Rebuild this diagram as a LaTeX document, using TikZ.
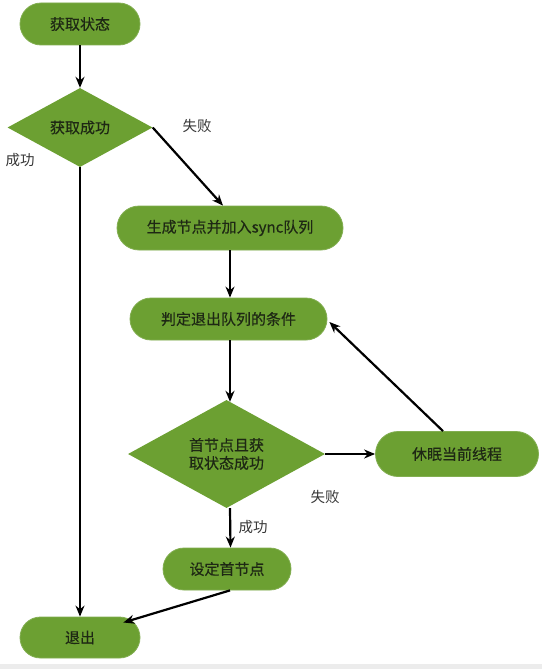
\documentclass[tikz,border=0pt]{standalone}
\usepackage{fontspec}
\setmainfont{Noto Sans CJK SC}[BoldFont={Noto Sans CJK SC},BoldFeatures={FakeBold=0.4}]
\usetikzlibrary{shapes.geometric,arrows.meta,calc}
\definecolor{boxgreen}{RGB}{108,160,50}
\definecolor{boxtext}{RGB}{30,40,20}
\definecolor{labtext}{RGB}{55,55,55}
\tikzset{
  pill/.style={draw=boxgreen!85!white, line width=0.8pt, fill=boxgreen, rounded corners=#1, text=boxtext, font=\fontsize{15}{17}\selectfont\bfseries, inner sep=0pt},
  dia/.style={diamond, fill=boxgreen, text=boxtext, font=\fontsize{15}{18}\selectfont\bfseries, inner sep=0pt, align=center},
  arr/.style={line width=2.2pt, -{Stealth[length=11pt,width=9pt]}},
  lab/.style={text=labtext, font=\fontsize{14.5}{16}\selectfont}
}
\begin{document}
\begin{tikzpicture}[x=1pt,y=1pt]
\useasboundingbox (0,0) rectangle (542,-669);
\fill[white] (0,0) rectangle (542,-669);
\fill[gray!15] (0,-664) rectangle (542,-669);
\node[pill=21, minimum width=120, minimum height=42] (get) at (80,-24) {获取状态};
\node[dia, minimum width=145, minimum height=79] (ok1) at (80,-127.5) {获取成功};
\node[pill=22, minimum width=226, minimum height=44] (sync) at (230,-228) {生成节点并加入sync队列};
\node[pill=21, minimum width=197, minimum height=42] (judge) at (228.5,-319) {判定退出队列的条件};
\node[dia, minimum width=197, minimum height=108] (ok2) at (226.5,-454) {首节点且获\\取状态成功};
\node[pill=22.5, minimum width=163, minimum height=45] (sleep) at (457,-454) {休眠当前线程};
\node[pill=21, minimum width=128, minimum height=42] (sethead) at (227,-569) {设定首节点};
\node[pill=20.5, minimum width=120, minimum height=41] (exit) at (80,-637.5) {退出};
\node[lab] (f1) at (197,-126) {失败};
\node[lab] (s1) at (20,-160) {成功};
\node[lab] (f2) at (325,-497) {失败};
\node[lab] (s2) at (253,-527) {成功};
\draw[arr] (get.south) -- (ok1.north);
\draw[arr] (ok1.east) -- ($(sync.north)+(-7,0)$);
\draw[arr] (ok1.south) -- (exit.north);
\draw[arr] (sync.south) -- (sync.south |- judge.north);
\draw[arr] ($(judge.south)+(1.5,0)$) -- ($(ok2.north)+(3.5,-2)$);
\draw[arr] (ok2.east) -- (sleep.west);
\draw[arr] ($(sleep.north)+(-14,0)$) -- ($(judge.east)+(2,-3)$);
\draw[arr] ($(ok2.south)+(3.5,0)$) -- ($(sethead.north)+(3.5,0)$);
\draw[arr] ($(sethead.south)+(3,0)$) -- ($(exit.east)+(-17,15)$);
\end{tikzpicture}
\end{document}
